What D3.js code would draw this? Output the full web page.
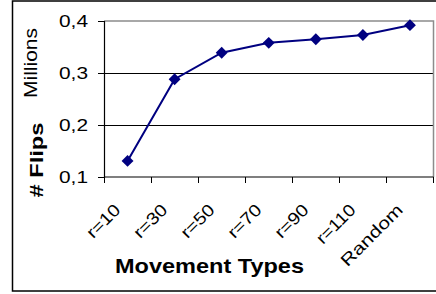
<!DOCTYPE html>
<html><head><meta charset="utf-8">
<script src="https://cdn.jsdelivr.net/npm/d3@7"></script>
<style>
html,body{margin:0;padding:0;background:#fff;}
svg{display:block;font-family:"Liberation Sans",Arial,sans-serif;}
</style></head>
<body><svg id="c" width="436" height="294"></svg>
<script>
const categories = ["r=10","r=30","r=50","r=70","r=90","r=110","Random"];
const flips = [0.131, 0.288, 0.339, 0.358, 0.365, 0.373, 0.392];
const yTicks = [0.1, 0.2, 0.3, 0.4];
const yTickLabels = ["0,1","0,2","0,3","0,4"];
const xTitle = "Movement Types";
const yTitle = "# Flips";
const yUnit = "Millions";

const svg = d3.select("#c");
const L = 104, R = 433.5, T = 21, B = 177;
const x = d3.scaleBand().domain(categories).range([L, R]);
const y = d3.scaleLinear().domain([0.1, 0.4]).range([B, T]);

// outer chart border
svg.append("rect").attr("x", 12.5).attr("y", 1).attr("width", 440).attr("height", 290)
  .attr("fill", "none").attr("stroke", "#000").attr("stroke-width", 1.5);

// gridlines
svg.append("g").attr("shape-rendering", "crispEdges")
  .selectAll("line").data(yTicks.filter(d => d > 0.1 && d < 0.4)).join("line")
  .attr("x1", L).attr("x2", R).attr("y1", d => y(d) + 0.5).attr("y2", d => y(d) + 0.5)
  .attr("stroke", "#000").attr("stroke-width", 1);

// plot area border top/right (gray)
svg.append("path").attr("d", `M${L},${y(0.4)}H${R}V${B}`)
  .attr("fill", "none").attr("stroke", "#8c8c8c").attr("stroke-width", 1.5);

// y axis
const yAxis = d3.axisLeft(y).tickValues(yTicks).tickSize(6).tickPadding(10)
  .tickFormat((d, i) => yTickLabels[i]);
const gy = svg.append("g").attr("transform", `translate(${L},0)`).call(yAxis);
gy.select(".domain").attr("stroke", "#000").attr("stroke-width", 1.2);
gy.selectAll(".tick line").attr("stroke", "#000").attr("shape-rendering", "crispEdges");
gy.selectAll("text").attr("font-size", 16).attr("fill", "#000")
  .attr("font-family", "'Liberation Sans',Arial,sans-serif")
  .attr("textLength", 29).attr("lengthAdjust", "spacingAndGlyphs");

// x axis line and boundary ticks
svg.append("line").attr("x1", L).attr("x2", R).attr("y1", B).attr("y2", B)
  .attr("stroke", "#000").attr("stroke-width", 1.2);
const bounds = categories.map(c => x(c)).concat([x.range()[1]]);
svg.append("g").attr("shape-rendering", "crispEdges")
  .selectAll("line").data(bounds).join("line")
  .attr("x1", d => d).attr("x2", d => d).attr("y1", B).attr("y2", B + 6)
  .attr("stroke", "#000");

// x tick labels rotated
const xLabLen = {"r=10":40,"r=30":40,"r=50":40,"r=70":40,"r=90":40,"r=110":48,"Random":80};
svg.append("g").selectAll("text").data(categories).join("text")
  .attr("transform", d => `translate(${x(d) + x.bandwidth()/2 - 6},${B + 34}) rotate(-45)`)
  .attr("text-anchor", "end").attr("font-size", 17).attr("fill", "#000")
  .attr("textLength", d => xLabLen[d]).attr("lengthAdjust", "spacingAndGlyphs")
  .text(d => d);

// line
const line = d3.line().x(d => x(d.c) + x.bandwidth()/2).y(d => y(d.v));
const pts = categories.map((c, i) => ({c, v: flips[i]}));
svg.append("path").datum(pts).attr("d", line).attr("fill", "none")
  .attr("stroke", "#000080").attr("stroke-width", 2);
svg.append("g").selectAll("path").data(pts).join("path")
  .attr("d", d3.symbol(d3.symbolDiamond2, 90))
  .attr("transform", d => `translate(${x(d.c) + x.bandwidth()/2},${y(d.v)})`)
  .attr("fill", "#000080");

// titles
svg.append("text").attr("x", 209.5).attr("y", 273).attr("text-anchor", "middle")
  .attr("font-size", 21).attr("font-weight", "bold").attr("fill", "#000")
  .attr("textLength", 189).attr("lengthAdjust", "spacingAndGlyphs").text(xTitle);
svg.append("text").attr("transform", "translate(43,160) rotate(-90)").attr("text-anchor", "middle")
  .attr("font-size", 18).attr("font-weight", "bold").attr("fill", "#000")
  .attr("textLength", 75).attr("lengthAdjust", "spacingAndGlyphs").text(yTitle);
svg.append("text").attr("transform", "translate(36.5,63) rotate(-90)").attr("text-anchor", "middle")
  .attr("font-size", 18).attr("fill", "#000")
  .attr("textLength", 70).attr("lengthAdjust", "spacingAndGlyphs").text(yUnit);
</script></body></html>
